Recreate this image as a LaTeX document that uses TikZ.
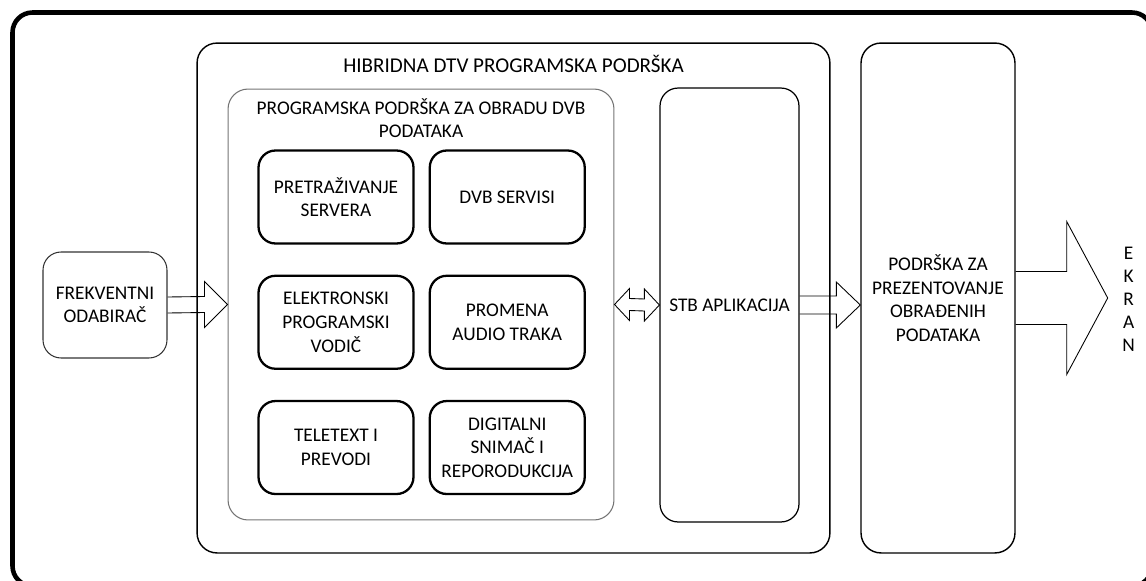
\documentclass[tikz,border=0pt]{standalone}
\usepackage{fontspec}
\setmainfont{Carlito}
\usetikzlibrary{positioning,calc}

\begin{document}
\begin{tikzpicture}[x=0.02cm,y=-0.02cm,
    txt/.style={align=center, font=\fontsize{11}{13.4}\selectfont, inner sep=0pt},
    container/.style={draw, rounded corners=0.4cm, line width=0.8pt},
    service/.style={draw, rounded corners=0.34cm, line width=1.3pt, minimum width=3.1cm, minimum height=1.86cm, txt},
    blockarrow/.style={draw, line width=0.5pt, line join=miter}]
    \useasboundingbox (0,0) rectangle (1146,581);
    \draw[line width=2.6pt, rounded corners=0.4cm] (12.5,12.5) rectangle (1152,586);

    % outer blocks
    \node[container, minimum width=12.66cm, minimum height=10.2cm] (hib) at (513.5,298) {};
    \node[container, draw=black!55, line width=0.6pt, minimum width=7.72cm, minimum height=8.62cm] (prog) at (421,304.5) {};
    \node[container, line width=0.7pt, rounded corners=0.36cm, minimum width=2.78cm, minimum height=8.68cm, txt] (stb) at (729.5,305) {STB APLIKACIJA};
    \node[container, minimum width=3.08cm, minimum height=10.2cm, txt] (pod) at (938,298) {PODRŠKA ZA\\PREZENTOVANJE\\OBRAĐENIH\\PODATAKA};
    \node[container, draw=black!80, line width=0.6pt, rounded corners=0.36cm, minimum width=2.48cm, minimum height=2.12cm, txt] (frek) at (105,305) {FREKVENTNI\\ODABIRAČ};
    \node[txt, font=\fontsize{12}{14}\selectfont, below = 0.26cm of hib.north] (hibt) {HIBRIDNA DTV PROGRAMSKA PODRŠKA};
    \node[txt, below = 0.19cm of prog.north] (progt) {PROGRAMSKA PODRŠKA ZA OBRADU DVB\\PODATAKA};

    % DVB services
    \node[service] (srch) at (336,197) {PRETRAŽIVANJE\\SERVERA};
    \node[service, right = 0.28cm of srch] (dvbs) {DVB SERVISI};
    \node[service, below = 0.6cm of srch] (epg) {ELEKTRONSKI\\PROGRAMSKI\\VODIČ};
    \node[service, right = 0.28cm of epg] (audio) {PROMENA\\AUDIO TRAKA};
    \node[service, below = 0.6cm of epg] (ttx) {TELETEXT I\\PREVODI};
    \node[service, right = 0.28cm of ttx] (pvr) {DIGITALNI\\SNIMAČ I\\REPORODUKCIJA};

    % block arrows
    \draw[blockarrow] ($(frek.east)+(0,-8)$) -- ($(prog.west)+(-23,-8)$) -- ++(0,-15) -- (prog.west)
        -- ++(-23,23) -- ++(0,-15) -- ($(frek.east)+(0,8)$);
    \draw[blockarrow] (prog.east) -- ++(15,-16) -- ++(0,10) -- ($(stb.west)+(-15,-6)$) -- ++(0,-10) -- (stb.west)
        -- ++(-15,16) -- ++(0,-10) -- ($(prog.east)+(15,6)$) -- ++(0,10) -- cycle;
    \coordinate (tipb) at (pod.west |- stb.east);
    \draw[blockarrow] ($(stb.east)+(0,-9)$) -- ($(tipb)+(-24,-9)$) -- ++(0,-14) -- (tipb)
        -- ++(-24,23) -- ++(0,-14) -- ($(stb.east)+(0,9)$);
    \coordinate (tipe) at ($(pod.east)+(92,0)$);
    \draw[blockarrow] ($(pod.east)+(0,-26.5)$) -- ($(tipe)+(-41,-26.5)$) -- ++(0,-50) -- (tipe)
        -- ++(-41,76.5) -- ++(0,-50) -- ($(pod.east)+(0,26.5)$);
    \node[txt, font=\fontsize{11}{13.1}\selectfont] (ekran) at ($(tipe)+(21,1)$) {E\\K\\R\\A\\N};
\end{tikzpicture}
\end{document}
